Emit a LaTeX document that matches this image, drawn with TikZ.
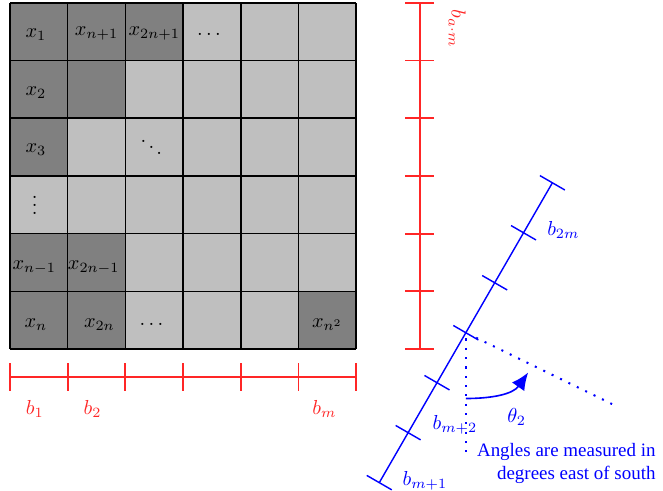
\documentclass[tikz,border=0pt]{standalone}
\usepackage{fontspec}
\newfontfamily\notefont{Liberation Serif}
\usetikzlibrary{arrows.meta,calc}
\begin{document}
\begin{tikzpicture}[x=1cm,y=1cm,
  cellno/.style={inner sep=1pt},
  gridline/.style={draw=black,line width=0.8pt},
  redline/.style={draw=red!85,line width=0.9pt},
  blueline/.style={draw=blue,line width=0.7pt},
  dotline/.style={draw=blue,line width=1pt,dash pattern=on 1pt off 3.6pt},
  redlab/.style={text=red!85,inner sep=1pt},
  bluelab/.style={text=blue,inner sep=1pt}]
\useasboundingbox (-0.173,-2.444) rectangle (11.317,6.049);
% grid cells: row r from top (0..5), col c (0..5)
\fill[lightgray] (0,0) rectangle (6,6);
\foreach \c/\r in {0/0,1/0,2/0,0/1,1/1,0/2,0/4,1/4,0/5,1/5,5/5}{
  \fill[gray] (\c,5-\r) rectangle ++(1,1);
}
\draw[gridline] (0,0) grid (6,6);
% cell labels
\node[cellno] (c00) at (0.45,5.45) {$x_1$};
\node[cellno] (c01) at (1.5,5.47) {$x_{n+1}$};
\node[cellno] (c02) at (2.5,5.47) {$x_{2n+1}$};
\node[cellno] (c03) at (3.45,5.45) {$\cdots$};
\node[cellno] (c10) at (0.45,4.45) {$x_2$};
\node[cellno] (c20) at (0.45,3.45) {$x_3$};
\node[cellno] (c22) at (2.45,3.6) {$\ddots$};
\node[cellno] (c30) at (0.43,2.6) {$\vdots$};
\node[cellno] (c40) at (0.42,1.42) {$x_{n-1}$};
\node[cellno] (c41) at (1.45,1.42) {$x_{2n-1}$};
\node[cellno] (c50) at (0.45,0.42) {$x_n$};
\node[cellno] (c51) at (1.55,0.42) {$x_{2n}$};
\node[cellno] (c52) at (2.45,0.42) {$\cdots$};
\node[cellno] (c55) at (5.5,0.42) {$x_{n^2}$};
% bottom red ruler
\draw[redline] (0,-0.485) -- (6,-0.485);
\foreach \i in {0,...,6}{\draw[redline] (\i,-0.25) -- (\i,-0.72);}
\node[redlab] (b1) at (0.43,-1.03) {$b_1$};
\node[redlab] (b2) at (1.43,-1.03) {$b_2$};
\node[redlab] (bm) at (5.45,-1.03) {$b_m$};
% right red ruler
\draw[redline] (7.1,0) -- (7.1,6);
\foreach \i in {0,...,6}{\draw[redline] (6.85,\i) -- (7.35,\i);}
\node[redlab,rotate=-90] (bam) at (7.75,5.55) {$b_{a\cdot m}$};
% blue ruler
\coordinate (M) at (7.90,0.283);
\begin{scope}[shift={(M)},rotate=60]
  \draw[blueline] (-3,0) -- (3,0);
  \foreach \i in {-3,...,3}{\draw[blueline] (\i,-0.25) -- (\i,0.25);}
\end{scope}
\coordinate (S) at ($(M)+(0,-2.15)$);
\coordinate (E) at ($(M)+(-26:2.82)$);
\draw[dotline] ($(M)+(0,-0.1)$) -- (S);
\draw[dotline] ($(M)+(-26:0.2)$) -- (E);
\coordinate (A0) at ($(M)+(0,-1.14)$);
\coordinate (A1) at ($(M)+(1.08,-0.69)$);
\draw[blue,line width=0.8pt,-{Latex[length=3mm,width=2.6mm]}] (A0) to[out=0,in=235] (A1);
\node[bluelab] (th) at (8.78,-1.17) {$\theta_2$};
\node[bluelab] (b2m) at (9.59,2.06) {$b_{2m}$};
\node[bluelab] (bm2) at (7.71,-1.32) {$b_{m+2}$};
\node[bluelab] (bm1) at (7.19,-2.29) {$b_{m+1}$};
\node[bluelab,align=right,anchor=east,font=\notefont\fontsize{9.35}{11.5}\selectfont] (note) at (11.23,-1.98) {Angles are measured in\\degrees east of south};
\end{tikzpicture}
\end{document}
